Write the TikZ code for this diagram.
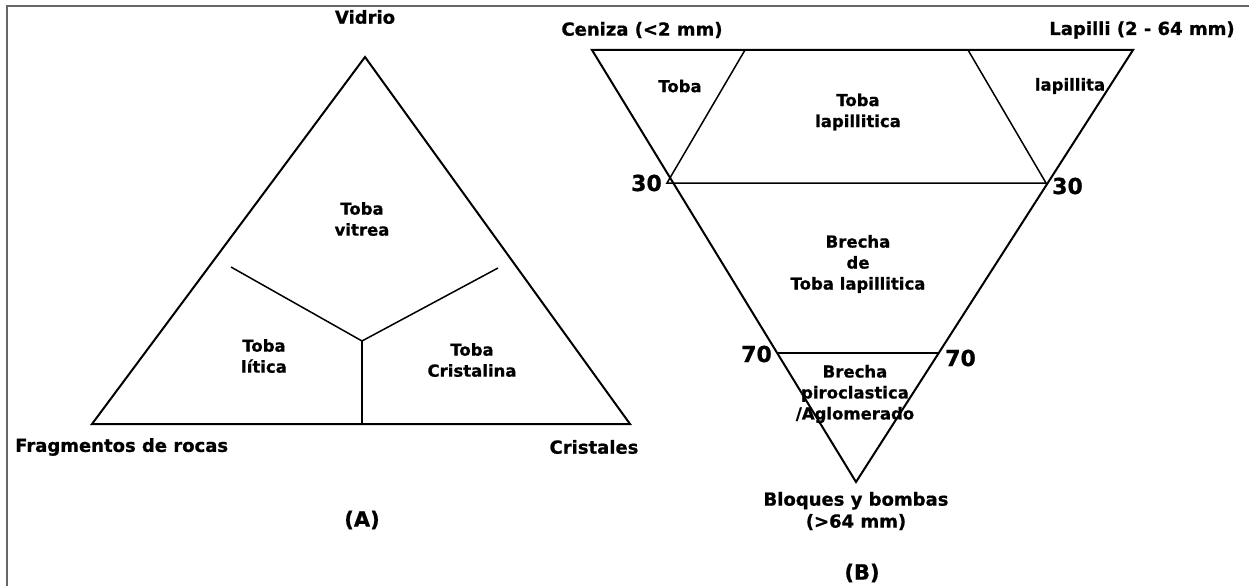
\documentclass[tikz,border=0pt]{standalone}
\usepackage{fontspec}
\setmainfont{DejaVu Sans}[BoldFeatures={FakeBold=0.8}]
\begin{document}
\begin{tikzpicture}[x=1pt,y=-1pt,
  edge/.style={line width=2pt,line cap=round,line join=miter},
  thin edge/.style={line width=1.5pt},
  lab/.style={font=\fontsize{16.5}{21}\selectfont\bfseries,align=center,inner sep=0pt},
  corner/.style={font=\fontsize{18}{22}\selectfont\bfseries,align=center,inner sep=0pt},
  num/.style={font=\fontsize{22}{24}\selectfont\bfseries,inner sep=0pt},
  panel/.style={font=\fontsize{21}{24}\selectfont\bfseries,inner sep=0pt}]
\useasboundingbox (0,0) rectangle (1249,586);
\fill[white] (0,0) rectangle (1249,586);
% frame
\draw[gray!80!black,line width=2pt] (7,586) -- (7,6) -- (1249,6);

% ---------- (A) ----------
\coordinate (Atop) at (365,57);
\coordinate (Abl) at (92,424);
\coordinate (Abr) at (630,424);
\coordinate (Jl) at (231,267);
\coordinate (Jr) at (498,268);
\coordinate (Jc) at (362,341);
\coordinate (Jb) at (362,424);
\draw[edge] (Atop) -- (Abl) -- (Abr) -- cycle;
\draw[thin edge] (Jl) -- (Jc) -- (Jr);
\draw[thin edge] (Jc) -- (Jb);

\node[corner] (vid) at (365,17) {Vidrio};
\node[corner,anchor=west] (frag) at (15,447) {Fragmentos de rocas};
\node[corner] (cri) at (594,447) {Cristales};
\node[lab] (tv) at (362,219) {Toba\\vitrea};
\node[lab] (tl) at (264,356) {Toba\\lítica};
\node[lab] (tc) at (472,360) {Toba\\Cristalina};
\node[panel] (pa) at (362,520) {(A)};

% ---------- (B) ----------
\coordinate (Btl) at (592,50);
\coordinate (Btr) at (1133,50);
\coordinate (Bb) at (856,482);
\coordinate (D1t) at (745,50);
\coordinate (D2t) at (968,50);
\coordinate (L30) at (667,183);
\coordinate (R30) at (1046,183);
\coordinate (L70) at (777,353);
\coordinate (R70) at (938,353);
\draw[edge] (Btl) -- (Btr) -- (Bb) -- cycle;
\draw[thin edge] (D1t) -- (L30) -- (R30) -- (D2t);
\draw[thin edge] (L70) -- (R70);

\node[corner] (cen) at (642,30) {Ceniza (<2 mm)};
\node[corner] (lap) at (1142,30) {Lapilli (2 - 64 mm)};
\node[lab] (t1) at (680,86) {Toba};
\node[lab] (t2) at (858,112) {Toba\\lapillitica};
\node[lab] (t3) at (1070,86) {lapillita};
\node[num,anchor=east] (n30l) at (662,183) {30};
\node[num,anchor=west] (n30r) at (1052,186) {30};
\node[lab] (br) at (858,264) {Brecha\\de\\Toba lapillitica};
\node[num,anchor=east] (n70l) at (772,354) {70};
\node[num,anchor=west] (n70r) at (945,358) {70};
\node[lab] (bp) at (855,394) {Brecha\\piroclastica\\/Aglomerado};
\node[corner] (bb) at (856,511) {Bloques y bombas\\(>64 mm)};
\node[panel] (pb) at (862,573) {(B)};
\end{tikzpicture}
\end{document}
